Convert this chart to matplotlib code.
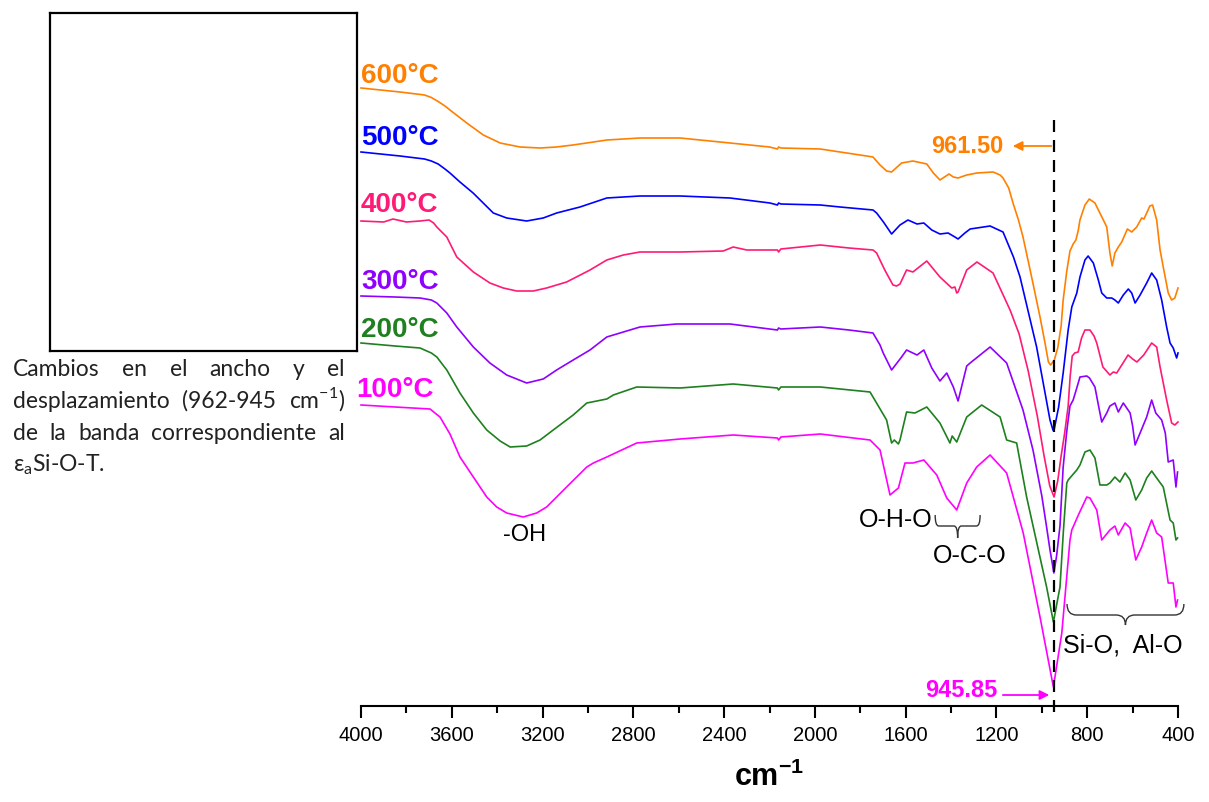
import numpy as np
import matplotlib
matplotlib.use("Agg")
import matplotlib.pyplot as plt
from matplotlib import font_manager
from matplotlib.path import Path
from matplotlib.patches import PathPatch
from matplotlib.ticker import MultipleLocator

wn_600 = [4000, 3828, 3720, 3690, 3660, 3630, 3608, 3534, 3461, 3387, 3299, 3211, 3138, 3066, 2916, 2771,
          2594, 2374, 2200, 2165, 2160, 2150, 1976, 1889, 1801, 1744, 1713, 1684, 1662, 1618, 1568, 1507,
          1478, 1449, 1409, 1390, 1369, 1331, 1286, 1215, 1184, 1171, 1146, 1127, 1103, 1083, 1045, 1008,
          986, 971, 961.5, 945, 930, 915, 906, 890, 876, 862, 850, 840, 832, 810, 791, 766, 729, 714, 700,
          690, 678, 663, 648, 623, 604, 582, 560, 550, 524, 512, 494, 479, 465, 443, 428, 414, 400]
t_600 = [618, 614, 611, 608.5, 604.5, 600, 596, 583, 571, 563, 559, 558, 559, 561, 566, 568,
         568, 563, 559, 557, 559, 558, 557, 554, 551, 549, 541, 535, 534, 543, 545, 542,
         533, 526, 532, 529, 528, 531, 533, 534, 531, 528, 518, 503, 486, 469, 429, 389,
         363, 344, 341, 346, 358, 380, 406, 435, 455, 462, 466, 475, 486, 501, 507, 503, 486, 479, 453,
         440, 453, 459, 464, 477, 474, 479, 488, 487, 500, 501, 486, 456, 439, 413, 406, 408, 418]

wn_500 = [4000, 3828, 3720, 3690, 3660, 3630, 3608, 3564, 3506, 3417, 3358, 3270, 3197, 3138, 3035, 2917,
          2771, 2594, 2374, 2198, 2165, 2160, 2150, 1976, 1889, 1744, 1728, 1698, 1662, 1625, 1590, 1550,
          1520, 1485, 1449, 1413, 1383, 1369, 1339, 1316, 1257, 1228, 1171, 1125, 1096, 1023, 964, 951, 947,
          926, 906, 884, 868, 846, 832, 810, 796, 773, 751, 736, 714, 692, 678, 663, 641, 619, 604, 589,
          567, 538, 516, 494, 472, 450, 435, 421, 406, 400]
t_500 = [554, 550, 547, 545, 542, 537, 533, 524, 513, 493, 488, 485, 488, 493, 499, 508,
         510, 510, 508, 503, 501, 503, 502, 501, 499, 496, 493, 484, 472, 481, 486, 482,
         483, 476, 472, 473, 469, 467, 473, 477, 479, 480, 474, 449, 429, 359, 286, 276, 275,
         299, 333, 376, 399, 413, 429, 446, 450, 443, 426, 413, 408, 408, 406, 403, 411, 417, 413, 403,
         411, 423, 433, 426, 406, 379, 363, 358, 348, 353]

wn_400 = [4000, 3900, 3859, 3800, 3740, 3700, 3680, 3666, 3622, 3578, 3505, 3432, 3373, 3314, 3241, 3182,
          3094, 2991, 2917, 2844, 2771, 2594, 2404, 2360, 2300, 2165, 2160, 2150, 1976, 1850, 1744, 1728,
          1692, 1656, 1640, 1625, 1596, 1568, 1507, 1449, 1397, 1383, 1375, 1369, 1331, 1286, 1215, 1140,
          1100, 1060, 1020, 990, 965, 946, 930, 915, 900, 884, 875, 866, 855, 840, 825, 810, 788, 770,
          758, 731, 700, 685, 670, 645, 620, 600, 581, 551, 516, 494, 479, 450, 428, 414, 400]
t_400 = [485, 484, 487, 484, 485, 486, 483, 479, 469, 449, 434, 423, 418, 415, 415, 418,
         424, 436, 446, 451, 454, 454, 455, 459, 456, 456, 454, 457, 461, 458, 456, 453,
         436, 421, 420, 422, 436, 434, 445, 429, 418, 419, 413, 414, 436, 444, 433, 396,
         372, 335, 290, 250, 220, 209, 225, 250, 272, 300, 330, 350, 353, 354, 368, 376, 376, 370,
         363, 339, 331, 334, 333, 342, 351, 347, 344, 351, 363, 359, 339, 306, 283, 281, 284]

wn_300 = [4000, 3850, 3740, 3690, 3666, 3622, 3578, 3505, 3432, 3358, 3270, 3197, 3138, 3065, 2991, 2917,
          2844, 2771, 2609, 2374, 2165, 2160, 2150, 1976, 1850, 1744, 1713, 1699, 1662, 1618, 1596, 1550,
          1520, 1485, 1449, 1419, 1390, 1369, 1331, 1316, 1228, 1155, 1083, 1039, 1000, 979, 964, 947,
          935, 920, 906, 890, 876, 862, 846, 832, 802, 790, 766, 750, 736, 714, 700, 678, 663, 641, 611,
          600, 589, 567, 538, 516, 498, 472, 456, 443, 421, 409, 402]
t_300 = [410, 409, 408, 406, 403, 393, 379, 359, 343, 331, 323, 327, 336, 346, 356, 369,
         374, 379, 382, 382, 376, 378, 377, 379, 376, 373, 361, 353, 336, 349, 356, 351,
         356, 338, 325, 333, 319, 305, 340, 343, 359, 343, 296, 256, 210, 179, 156, 133,
         150, 180, 239, 275, 300, 306, 318, 329, 330, 328, 319, 300, 284, 293, 300, 303, 294, 303, 293,
         280, 261, 273, 289, 306, 293, 286, 273, 244, 246, 219, 234]

wn_200 = [4000, 3850, 3740, 3690, 3666, 3622, 3564, 3505, 3446, 3387, 3343, 3270, 3211, 3153, 3065, 3005,
          2917, 2888, 2785, 2594, 2360, 2165, 2160, 2150, 1976, 1757, 1684, 1662, 1650, 1632, 1625, 1596,
          1559, 1507, 1449, 1405, 1395, 1375, 1331, 1265, 1184, 1155, 1111, 1067, 979, 949, 920, 905, 890,
          884, 846, 832, 810, 788, 766, 744, 714, 700, 678, 656, 633, 611, 586, 560, 538, 516, 494, 465,
          435, 421, 409, 402]
t_200 = [363, 360, 358, 353, 349, 336, 313, 293, 276, 265, 259, 260, 266, 276, 291, 303,
         307, 311, 319, 318, 322, 318, 316, 319, 319, 314, 286, 263, 266, 262, 266, 294,
         293, 299, 283, 263, 270, 264, 289, 301, 289, 266, 263, 209, 119, 84, 119, 175, 223,
         226, 236, 241, 254, 256, 248, 221, 221, 223, 229, 224, 233, 226, 206, 216, 228, 235, 228, 219,
         186, 183, 166, 168]

wn_100 = [4000, 3850, 3696, 3652, 3608, 3564, 3505, 3446, 3402, 3358, 3285, 3226, 3182, 3094, 3005, 2976,
          2917, 2785, 2594, 2360, 2165, 2160, 2150, 1976, 1757, 1713, 1669, 1632, 1603, 1568, 1520, 1463,
          1419, 1375, 1331, 1287, 1228, 1155, 1082, 1008, 949, 912, 876, 868, 839, 802, 788, 758, 736, 700,
          678, 663, 633, 611, 586, 560, 538, 516, 494, 472, 443, 421, 409, 402]
t_100 = [301, 299, 297, 289, 272, 249, 229, 209, 199, 193, 189, 193, 199, 219, 239, 243,
         249, 263, 267, 271, 268, 266, 269, 272, 266, 256, 211, 218, 243, 243, 246, 231,
         208, 196, 223, 239, 251, 233, 173, 89, 19, 73, 166, 176, 191, 209, 208, 196, 166, 176,
         180, 171, 183, 178, 146, 159, 173, 186, 173, 169, 123, 123, 99, 106]

temperaturas = ["600°C", "500°C", "400°C", "300°C", "200°C", "100°C"]
colores = ["#FF8000", "#0000FF", "#FF1A75", "#8F00FF", "#1E801E", "#FF00FF"]
series = [(wn_600, t_600), (wn_500, t_500), (wn_400, t_400),
          (wn_300, t_300), (wn_200, t_200), (wn_100, t_100)]
pos_etiqueta = [(4000, 623), (4000, 561), (4000, 494), (4000, 417), (4000, 369), (4022, 309)]

plt.rcParams["font.family"] = ["Liberation Sans", "DejaVu Sans"]

fig = plt.figure(figsize=(12.09, 8.02), dpi=100)
ax = fig.add_axes([361 / 1209, 96 / 802, 817 / 1209, 646 / 802])

for (x, y), c in zip(series, colores):
    ax.plot(x, y, color=c, lw=1.2, clip_on=False)

for txt, c, (xe, ye) in zip(temperaturas, colores, pos_etiqueta):
    ax.text(xe, ye, txt, color=c, fontsize=20, fontweight="bold", ha="left", va="baseline", clip_on=False)

ax.set_xlim(4000, 400)
ax.set_ylim(0, 646)
for s in ["top", "left", "right"]:
    ax.spines[s].set_visible(False)
ax.spines["bottom"].set_linewidth(1.5)
ax.set_yticks([])
ax.xaxis.set_major_locator(MultipleLocator(400))
ax.xaxis.set_minor_locator(MultipleLocator(200))

nombres = {f.name for f in font_manager.fontManager.ttflist}
if "Liberation Sans Narrow" in nombres:
    fuente_ticks, tam_ticks = "Liberation Sans Narrow", 16.5
else:
    fuente_ticks, tam_ticks = "Liberation Sans", 14.5
ax.tick_params(axis="x", which="major", direction="out", length=8.5, width=1.5, pad=6,
               labelsize=tam_ticks, labelfontfamily=fuente_ticks)
ax.tick_params(axis="x", which="minor", direction="out", length=5, width=1.5)

ax.set_xlabel(r"cm$^{\mathregular{-1}}$", fontsize=22, fontweight="bold", labelpad=12)

# linea discontinua en 945.85
ax.plot([945.85, 945.85], [-6, 588], color="black", lw=1.6, ls=(0, (5.4, 3.6)), clip_on=False)

# flechas y valores
ax.annotate("", xy=(1140, 560), xytext=(945.85, 560),
            arrowprops=dict(arrowstyle="-|>", color="#FF8000", lw=1.3, mutation_scale=14))
ax.text(1171, 553, "961.50", color="#FF8000", fontsize=17, fontweight="bold", ha="right", va="baseline")
ax.annotate("", xy=(955, 11), xytext=(1184, 11),
            arrowprops=dict(arrowstyle="-|>", color="#FF00FF", lw=1.3, mutation_scale=14),
            annotation_clip=False)
ax.text(1197, 9, "945.85", color="#FF00FF", fontsize=17, fontweight="bold", ha="right", va="baseline")

# asignaciones de bandas
ax.text(3280, 171, "-OH", fontsize=17, ha="center", va="center")
ax.text(1480, 179, "O-H-O", fontsize=18, ha="right", va="baseline")
ax.text(1480, 143, "O-C-O", fontsize=18, ha="left", va="baseline")
ax.text(907, 53, "Si-O,  Al-O", fontsize=18, ha="left", va="baseline", clip_on=False)


def llave(ax, xa, xb, ytop, ylin, ybot):
    xm = (xa + xb) / 2
    d = (xb - xa) * 0.08
    verts = [(xa, ytop), (xa, ylin), (xa + d, ylin),
             (xm - d, ylin), (xm, ylin), (xm, ybot),
             (xm, ylin), (xm + d, ylin),
             (xb - d, ylin), (xb, ylin), (xb, ytop)]
    codes = [Path.MOVETO, Path.CURVE3, Path.CURVE3,
             Path.LINETO, Path.CURVE3, Path.CURVE3,
             Path.CURVE3, Path.CURVE3,
             Path.LINETO, Path.CURVE3, Path.CURVE3]
    ax.add_patch(PathPatch(Path(verts, codes), fill=False, ec="#333333", lw=1.0, clip_on=False))


llave(ax, 1470, 1272, 191, 180, 168)
llave(ax, 889, 374, 102, 91, 81)

# recuadro vacio
caja = fig.add_axes([50 / 1209, 1 - 351 / 802, 307 / 1209, 338 / 802])
caja.set_xticks([])
caja.set_yticks([])
for s in caja.spines.values():
    s.set_linewidth(1.6)

# texto explicativo justificado
W = 1209
fuente_txt = dict(fontsize=16.5, family=["Lato", "DejaVu Sans"], color="#222222", va="baseline")
renderer = fig.canvas.get_renderer()


def linea(palabras, py, justificar=True, x0=13, x1=345):
    ts = [fig.text(0, 1 - py / 802, p, **fuente_txt) for p in palabras]
    anchos = [t.get_window_extent(renderer).width for t in ts]
    if justificar and len(ts) > 1:
        hueco = ((x1 - x0) - sum(anchos)) / (len(ts) - 1)
    else:
        hueco = 5
    x = x0
    for t, a in zip(ts, anchos):
        t.set_x(x / W)
        x += a + hueco


linea(["Cambios", "en", "el", "ancho", "y", "el"], 376)
linea(["desplazamiento", "(962-945", r"cm$^{\mathregular{-1}}$)"], 408)
linea(["de", "la", "banda", "correspondiente", "al"], 440)
linea([r"ε$_{\mathregular{a}}$Si-O-T."], 471, justificar=False)

fig.savefig("out.png", dpi=100)
